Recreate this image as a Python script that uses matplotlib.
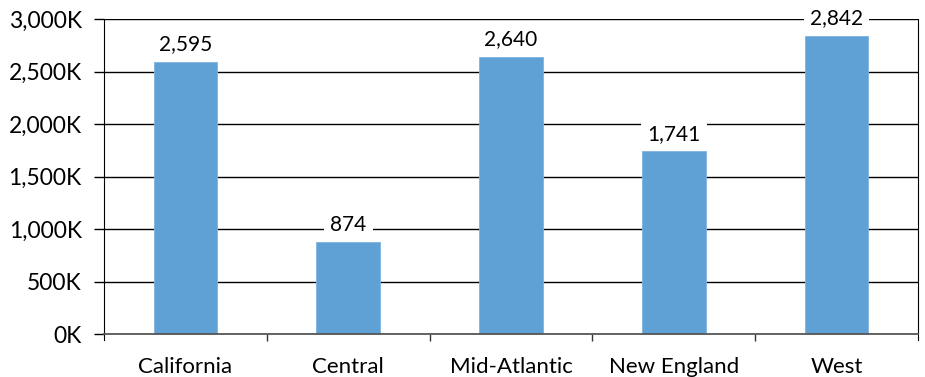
import numpy as np
import matplotlib.pyplot as plt
from matplotlib.ticker import FuncFormatter, FixedLocator

regions = ["California", "Central", "Mid-Atlantic", "New England", "West"]
totals = [2595, 874, 2640, 1741, 2842]  # thousands
y_ticks = [0, 500, 1000, 1500, 2000, 2500, 3000]

plt.rcParams['font.family'] = ['Lato', 'DejaVu Sans']
fs = 16

fig = plt.figure(figsize=(9.25, 3.77), dpi=100)
ax = fig.add_axes([0.1124, 0.114, 0.8800, 0.8356])

x = np.arange(len(regions))
ax.set_xlim(-0.5, len(regions) - 0.5)
ax.set_ylim(0, 3000)

# gridlines under the bars
for t in y_ticks[1:]:
    ax.axhline(t, color='black', lw=1, zorder=1)

bars = ax.bar(x, totals, width=0.39, color='#5fa0d5', edgecolor='#7db3e0',
              linewidth=0.6, zorder=2)

for xi, v in zip(x, totals):
    ax.annotate(f"{v:,}", (xi, v), xytext=(0, 12.5), textcoords='offset points',
                ha='center', va='center', fontsize=15, zorder=4,
                bbox=dict(boxstyle='square,pad=0.3', fc='white', ec='none'))

ax.set_yticks(y_ticks)
ax.yaxis.set_major_formatter(FuncFormatter(lambda v, _: f"{int(v):,}K"))
ax.tick_params(axis='y', direction='out', length=7, width=1, color='black',
               labelsize=fs + 0.5, pad=9)

ax.set_xticks(x)
ax.set_xticklabels(regions, fontsize=fs)
ax.tick_params(axis='x', which='major', length=0, pad=16.5)
ax.xaxis.set_minor_locator(FixedLocator(x[:-1] + 0.5))
ax.tick_params(axis='x', which='minor', direction='out', length=5, width=1,
               color='#333333')

ax.spines['top'].set_visible(False)
ax.spines['bottom'].set_color('#555555')
ax.spines['bottom'].set_linewidth(1.3)
ax.spines['bottom'].set_zorder(3)
ax.spines['left'].set_color('black')
ax.spines['left'].set_bounds(-55, 3000)
ax.spines['right'].set_color('black')
ax.spines['right'].set_bounds(-55, 3000)

fig.savefig("out.png", dpi=100)
